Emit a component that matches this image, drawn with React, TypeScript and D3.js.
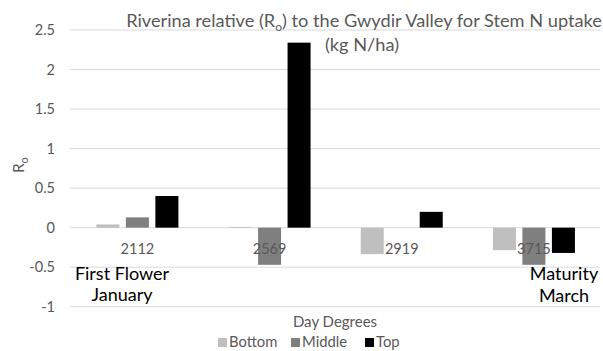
import React from "react";
import * as d3 from "d3";

const categories = ["2112", "2569", "2919", "3715"];
const seriesNames = ["Bottom", "Middle", "Top"];
const bottomValues = [0.04, 0.01, -0.335, -0.285];
const middleValues = [0.13, -0.47, 0, -0.47];
const topValues = [0.4, 2.34, 0.2, -0.32];
const yTicks = [-1, -0.5, 0, 0.5, 1, 1.5, 2, 2.5];
const colors = ["#bfbfbf", "#7f7f7f", "#000000"];

const W = 603;
const H = 351;
const FONT = "Lato, 'Open Sans', sans-serif";

export default function App() {
  const seriesValues = [bottomValues, middleValues, topValues];
  const x = d3.scaleBand<string>().domain(categories).range([71.3, 600]).padding(0);
  const inner = d3
    .scaleBand<string>()
    .domain(seriesNames)
    .range([-44.25, 44.25])
    .paddingInner(0.22)
    .paddingOuter(0.11);
  const y = d3.scaleLinear().domain([-1, 2.5]).range([306.7, 30]);
  const fmt = (v: number) => (v === 0 ? "0" : String(v));

  return (
    <svg width={W} height={H} style={{ position: "absolute", left: 0, top: 0, background: "#fff" }}>
      <rect x={0} y={0} width={W} height={H} fill="#fff" />
      {/* gridlines */}
      {yTicks.map((t) => (
        <line key={t} x1={70} x2={600} y1={y(t)} y2={y(t)} stroke="#d9d9d9" strokeWidth={1} />
      ))}
      {/* y tick labels */}
      {yTicks.map((t) => (
        <text
          key={"l" + t}
          x={55}
          y={y(t) + 5}
          textAnchor="end"
          fontFamily={FONT}
          fontSize={14.5}
          fill="#595959"
        >
          {fmt(t)}
        </text>
      ))}
      {/* bars */}
      {categories.map((c, ci) => {
        const cx = (x(c) as number) + x.bandwidth() / 2;
        return seriesNames.map((s, si) => {
          const v = seriesValues[si][ci];
          const y0 = y(0);
          const yv = y(v);
          return (
            <rect
              key={c + s}
              x={cx + (inner(s) as number)}
              width={inner.bandwidth()}
              y={Math.min(y0, yv)}
              height={Math.abs(yv - y0)}
              fill={colors[si]}
            />
          );
        });
      })}
      {/* category labels */}
      {categories.map((c) => (
        <text
          key={"c" + c}
          x={(x(c) as number) + x.bandwidth() / 2}
          y={254}
          textAnchor="middle"
          fontFamily={FONT}
          fontSize={14.5}
          fill="#595959"
        >
          {c}
        </text>
      ))}
      {/* annotations */}
      <text x={122} y={280} textAnchor="middle" fontFamily={FONT} fontSize={18} fill="#000">
        First Flower
      </text>
      <text x={122} y={301} textAnchor="middle" fontFamily={FONT} fontSize={18} fill="#000">
        January
      </text>
      <text x={564} y={280} textAnchor="middle" fontFamily={FONT} fontSize={18} fill="#000">
        Maturity
      </text>
      <text x={564} y={302} textAnchor="middle" fontFamily={FONT} fontSize={18} fill="#000">
        March
      </text>
      {/* title */}
      <text x={364} y={27} textAnchor="middle" fontFamily={FONT} fontSize={18.2} fill="#595959">
        Riverina relative (R<tspan fontSize={12} dy={4}>o</tspan>
        <tspan dy={-4}>) to the Gwydir Valley for Stem N uptake</tspan>
      </text>
      <text x={362} y={51} textAnchor="middle" fontFamily={FONT} fontSize={18.2} fill="#595959">
        (kg N/ha)
      </text>
      {/* y axis title */}
      <text
        transform="translate(24,165) rotate(-90)"
        textAnchor="middle"
        fontFamily={FONT}
        fontSize={15}
        fill="#595959"
      >
        R<tspan fontSize={11} dy={4}>o</tspan>
      </text>
      {/* x axis title */}
      <text x={335} y={327} textAnchor="middle" fontFamily={FONT} fontSize={15} fill="#595959">
        Day Degrees
      </text>
      {/* legend */}
      {seriesNames.map((s, i) => {
        const lx = [218, 291, 365][i];
        return (
          <g key={"lg" + s}>
            <rect x={lx} y={338} width={9} height={9} fill={colors[i]} />
            <text x={lx + 11} y={347} fontFamily={FONT} fontSize={14.8} fill="#595959">
              {s}
            </text>
          </g>
        );
      })}
    </svg>
  );
}
